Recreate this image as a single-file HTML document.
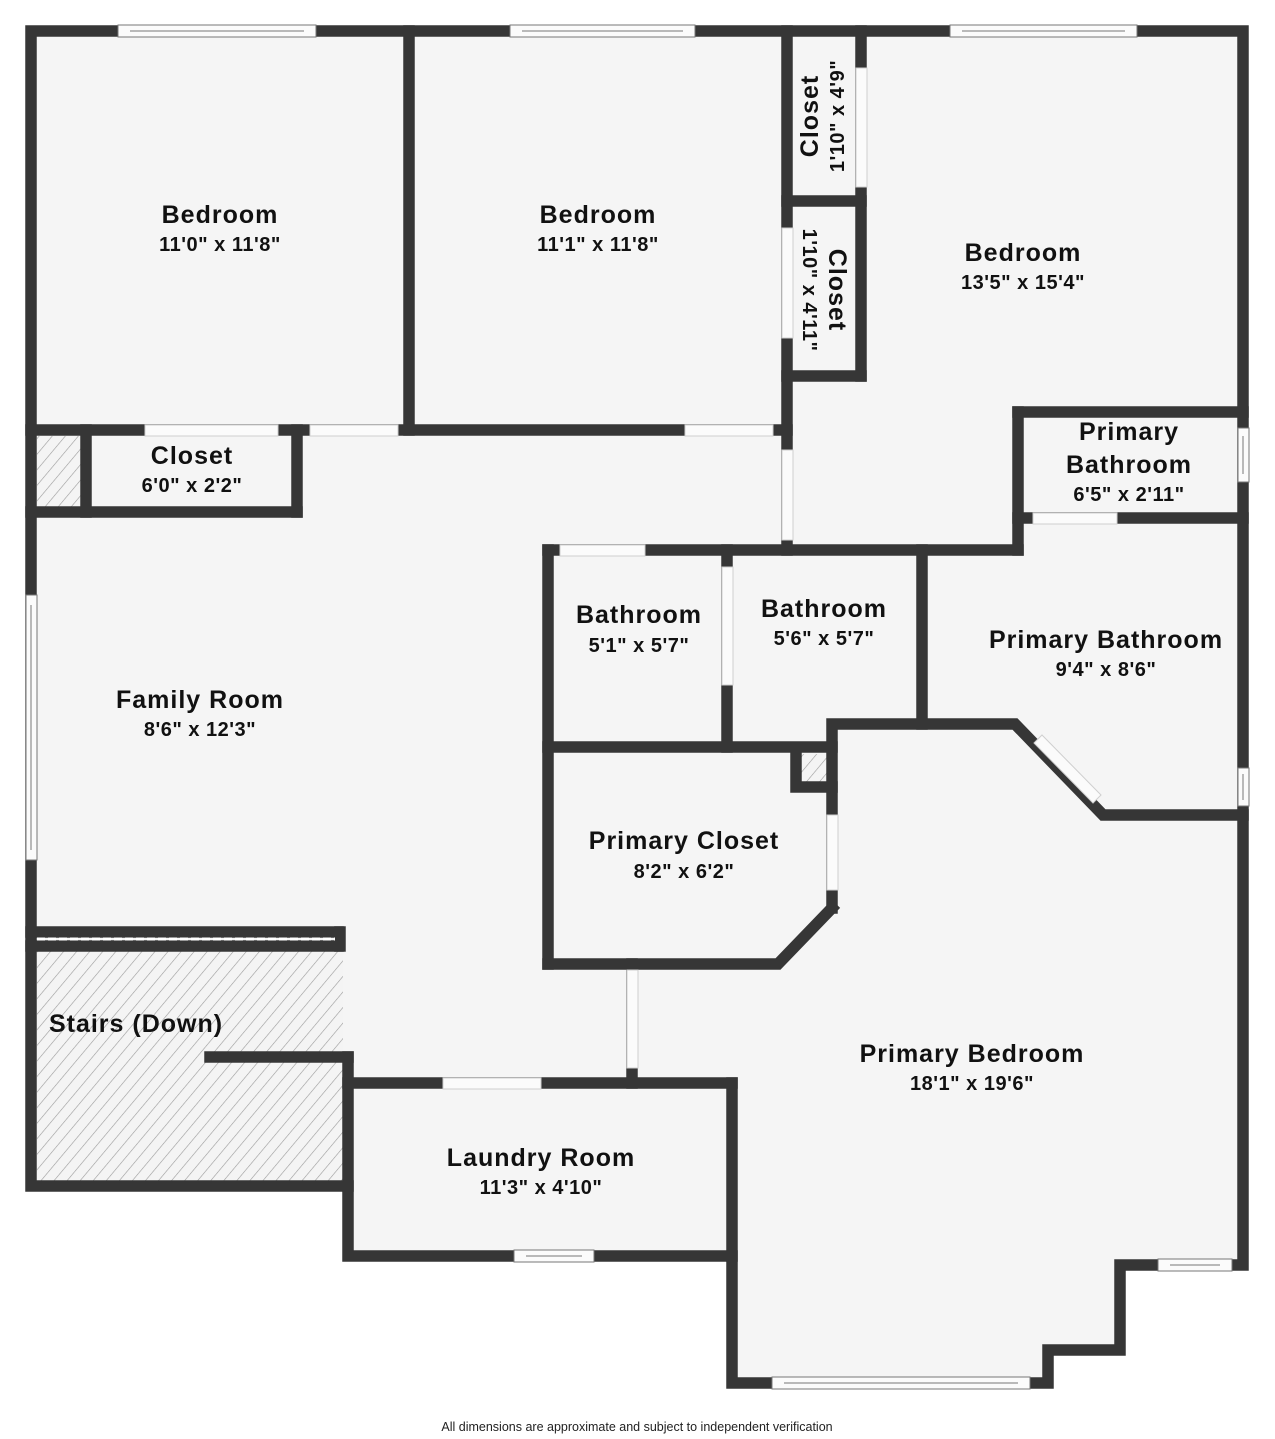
<!DOCTYPE html>
<html><head><meta charset="utf-8"><style>
html,body{margin:0;padding:0;background:#fff;}
svg{display:block;}
.n{font-family:"Liberation Sans",sans-serif;font-weight:bold;font-size:25px;letter-spacing:1px;fill:#111;text-anchor:middle;}
.d{font-family:"Liberation Sans",sans-serif;font-weight:bold;font-size:20px;letter-spacing:0.5px;fill:#111;text-anchor:middle;}
</style></head><body>
<svg width="1275" height="1439" viewBox="0 0 1275 1439" xmlns="http://www.w3.org/2000/svg">
<defs>
<pattern id="h" width="10" height="10" patternUnits="userSpaceOnUse" patternTransform="rotate(40)">
<rect width="10" height="10" fill="#f4f4f4"/><line x1="0" y1="0" x2="0" y2="10" stroke="#9a9a9a" stroke-width="1.2"/>
</pattern>
</defs>
<polygon points="31,31 1243,31 1243,1265 1120,1265 1120,1350 1048,1350 1048,1383 732,1383 732,1256 348,1256 348,1186 31,1186" fill="#f5f5f5"/>
<rect x="37" y="950" width="306" height="231" fill="url(#h)"/>
<rect x="37" y="436" width="46" height="72" fill="url(#h)"/>
<rect x="798" y="754" width="29" height="31" fill="url(#h)"/>
<g stroke="#363636" stroke-width="11.5" stroke-linecap="square" fill="none">
<polyline points="31,31 1243,31 1243,1265 1120,1265 1120,1350 1048,1350 1048,1383 732,1383 732,1256 348,1256 348,1186 31,1186 31,31"/>
<line x1="409" y1="31" x2="409" y2="430"/>
<line x1="31" y1="430" x2="787" y2="430"/>
<line x1="86" y1="430" x2="86" y2="512"/>
<line x1="31" y1="512" x2="297" y2="512"/>
<line x1="297" y1="430" x2="297" y2="512"/>
<line x1="787" y1="31" x2="787" y2="550"/>
<line x1="861" y1="31" x2="861" y2="376"/>
<line x1="787" y1="201" x2="861" y2="201"/>
<line x1="787" y1="376" x2="861" y2="376"/>
<line x1="1018" y1="412" x2="1018" y2="550"/>
<line x1="1018" y1="412" x2="1243" y2="412"/>
<line x1="1018" y1="518" x2="1243" y2="518"/>
<line x1="548" y1="550" x2="1018" y2="550"/>
<line x1="548" y1="550" x2="548" y2="964"/>
<line x1="727" y1="550" x2="727" y2="747"/>
<line x1="922" y1="550" x2="922" y2="724"/>
<line x1="548" y1="747" x2="832" y2="747"/>
<polyline points="832,908 832,724 1015,724 1103,815 1243,815"/>
<polyline points="548,964 778,964 832,908"/>
<polyline points="796,750 796,787 832,787"/>
<line x1="632" y1="964" x2="632" y2="1083"/>
<line x1="348" y1="1083" x2="732" y2="1083"/>
<line x1="732" y1="1083" x2="732" y2="1256"/>
<line x1="348" y1="1057" x2="348" y2="1186"/>
<line x1="210" y1="1057" x2="348" y2="1057"/>
<line x1="31" y1="932" x2="338" y2="932"/>
<line x1="31" y1="946" x2="338" y2="946"/>
<line x1="340" y1="932" x2="340" y2="946"/>
</g>
<line x1="37" y1="939" x2="335" y2="939" stroke="#fff" stroke-width="3" stroke-dasharray="8,3"/>
<g fill="#fbfbfb" stroke="#cfcfcf" stroke-width="1">
<rect x="145" y="425" width="133" height="11"/>
<rect x="310" y="425" width="88" height="11"/>
<rect x="685" y="425" width="88" height="11"/>
<rect x="782" y="450" width="11" height="90"/>
<rect x="856" y="68" width="11" height="119"/>
<rect x="782" y="228" width="11" height="110"/>
<rect x="1033" y="513" width="84" height="11"/>
<rect x="560" y="545" width="85" height="11"/>
<rect x="722" y="567" width="11" height="118"/>
<rect x="827" y="815" width="11" height="75"/>
<rect x="627" y="970" width="11" height="98"/>
<rect x="443" y="1078" width="98" height="11"/>
</g>
<polygon points="1034,743 1042,735 1101,795 1093,803" fill="#fbfbfb" stroke="#cfcfcf"/>
<g fill="#fbfbfb" stroke="#777" stroke-width="1">
<rect x="118" y="25" width="198" height="12"/>
<rect x="510" y="25" width="185" height="12"/>
<rect x="950" y="25" width="187" height="12"/>
<rect x="26" y="595" width="11" height="265"/>
<rect x="1238" y="428" width="11" height="54"/>
<rect x="1238" y="768" width="11" height="38"/>
<rect x="514" y="1250" width="80" height="12"/>
<rect x="1158" y="1259" width="74" height="12"/>
<rect x="772" y="1377" width="258" height="12"/>
</g>
<g stroke="#777" stroke-width="1">
<line x1="130" y1="31" x2="304" y2="31"/><line x1="522" y1="31" x2="683" y2="31"/><line x1="962" y1="31" x2="1125" y2="31"/>
<line x1="31" y1="605" x2="31" y2="850"/><line x1="1243" y1="436" x2="1243" y2="474"/><line x1="1243" y1="774" x2="1243" y2="800"/>
<line x1="526" y1="1256" x2="582" y2="1256"/><line x1="1170" y1="1265" x2="1220" y2="1265"/><line x1="784" y1="1383" x2="1018" y2="1383"/>
</g>
<text class="n" x="220" y="223">Bedroom</text><text class="d" x="220" y="251">11'0" x 11'8"</text>
<text class="n" x="598" y="223">Bedroom</text><text class="d" x="598" y="251">11'1" x 11'8"</text>
<text class="n" x="1023" y="261">Bedroom</text><text class="d" x="1023" y="289">13'5" x 15'4"</text>
<text class="n" x="192" y="464">Closet</text><text class="d" x="192" y="492">6'0" x 2'2"</text>
<text class="n" x="1129" y="440">Primary</text><text class="n" x="1129" y="473">Bathroom</text><text class="d" x="1129" y="501">6'5" x 2'11"</text>
<text class="n" x="639" y="623">Bathroom</text><text class="d" x="639" y="652">5'1" x 5'7"</text>
<text class="n" x="824" y="617">Bathroom</text><text class="d" x="824" y="645">5'6" x 5'7"</text>
<text class="n" x="1106" y="648">Primary Bathroom</text><text class="d" x="1106" y="676">9'4" x 8'6"</text>
<text class="n" x="200" y="708">Family Room</text><text class="d" x="200" y="736">8'6" x 12'3"</text>
<text class="n" x="684" y="849">Primary Closet</text><text class="d" x="684" y="878">8'2" x 6'2"</text>
<text class="n" x="136" y="1032">Stairs (Down)</text>
<text class="n" x="972" y="1062">Primary Bedroom</text><text class="d" x="972" y="1090">18'1" x 19'6"</text>
<text class="n" x="541" y="1166">Laundry Room</text><text class="d" x="541" y="1194">11'3" x 4'10"</text>
<g transform="translate(818,116) rotate(-90)"><text class="n" x="0" y="0">Closet</text></g>
<g transform="translate(844,116) rotate(-90)"><text class="d" x="0" y="0">1'10" x 4'9"</text></g>
<g transform="translate(829,290) rotate(90)"><text class="n" x="0" y="0">Closet</text></g>
<g transform="translate(803,290) rotate(90)"><text class="d" x="0" y="0">1'10" x 4'11"</text></g>
<text x="637" y="1431" font-family="Liberation Sans,sans-serif" font-size="12.5" fill="#222" text-anchor="middle">All dimensions are approximate and subject to independent verification</text>
</svg>
</body></html>
